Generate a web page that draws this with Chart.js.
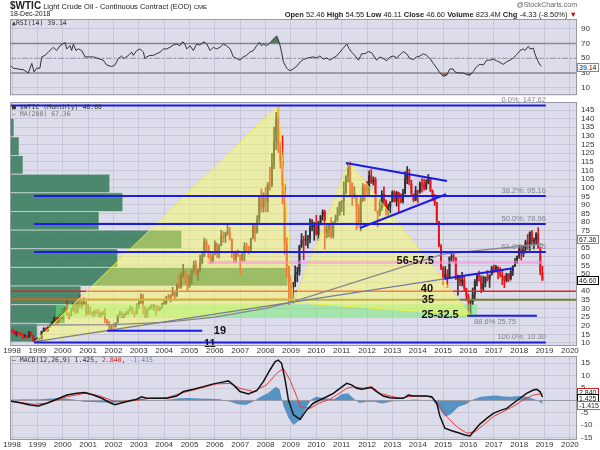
<!DOCTYPE html>
<html>
<head>
<meta charset="utf-8">
<title>$WTIC Light Crude Oil - Monthly</title>
<script src="https://cdn.jsdelivr.net/npm/chart.js@4.4.1/dist/chart.umd.min.js"></script>
<style>
  html, body { margin: 0; padding: 0; background: #fff; }
  body { position: relative; width: 600px; height: 450px; overflow: hidden; font-family: "Liberation Sans", Arial, sans-serif; color: #222; }
  canvas { position: absolute; left: 0; }
  .txt { position: absolute; white-space: nowrap; z-index: 5; }
  .mono { font-family: "DejaVu Sans Mono", monospace; font-size: 6.5px; color: #333; }
  .box { position: absolute; left: 577px; font-size: 7px; line-height: 7px; padding: 0 1px; background: #fff; border: 1px solid #888; z-index: 6; white-space: nowrap; }
</style>
</head>
<body>
<div class="txt" style="left:10px;top:0px;font-size:7.5px"><b style="font-size:10px">$WTIC</b> Light Crude Oil - Continuous Contract (EOD) <span style="font-size:6px">CME</span></div>
<div class="txt" style="right:23px;top:1px;font-size:7px;color:#666">@StockCharts.com</div>
<div class="txt" style="left:10px;top:10px;font-size:7px">18-Dec-2018</div>
<div class="txt" style="right:23px;top:10px;font-size:7.5px"><b>Open</b> 52.46 <b>High</b> 54.55 <b>Low</b> 46.11 <b>Close</b> 46.60 <b>Volume</b> 823.4M <b>Chg</b> -4.33 (-8.50%) <span style="color:#d00">&#9660;</span></div>

<div class="txt mono" style="left:12px;top:19px">&#9650;RSI(14) 39.14</div>
<div class="txt mono" style="left:12px;top:103px">&#9632; $WTIC (Monthly) 46.60</div>
<div class="txt mono" style="left:12px;top:110px;color:#777">&#8212; MA(200) 67.36</div>
<div class="txt mono" style="left:12px;top:356px">&#8212; MACD(12,26,9) 1.425, <span style="color:#e02020">2.840</span>, <span style="color:#4a8cc0">-1.415</span></div>

<div class="box" style="top:63px">39.14</div>
<div class="box" style="top:235px">67.36</div>
<div class="box" style="top:276px;border-color:#000">46.60</div>
<div class="box" style="top:388px;border-color:#e02020">2.840</div>
<div class="box" style="top:394px;border-color:#000">1.425</div>
<div class="box" style="top:401px;border-color:#4a8cc0">-1.415</div>

<canvas id="rsi" width="600" height="104" style="top:0px"></canvas>
<canvas id="main" width="600" height="266" style="top:90px"></canvas>
<canvas id="macd" width="600" height="104" style="top:346px"></canvas>

<script>
// axes
const xMin = 1997.92, xMax = 2020.28;
const yearTicks = [1998, 1999, 2000, 2001, 2002, 2003, 2004, 2005, 2006, 2007, 2008, 2009, 2010, 2011, 2012, 2013, 2014, 2015, 2016, 2017, 2018, 2019, 2020];
const priceTicks = [10, 15, 20, 25, 30, 35, 40, 45, 50, 55, 60, 65, 70, 75, 80, 85, 90, 95, 100, 105, 110, 115, 120, 125, 130, 135, 140, 145];
const rsiTicks = [10, 30, 50, 70, 90];
const macdTicks = [-15, -10, -5, 0, 5, 10, 15];

// monthly candles, Jan 1998 .. Dec 2018
const open = [
  17.64,17.21,15.44,15.61,15.39,15.20,14.18,14.21,13.39,16.14,14.42,11.22,
  12.05,12.75,12.27,16.76,18.66,16.84,19.29,20.53,22.11,24.51,21.75,24.59,
  25.60,27.64,30.43,26.90,25.74,29.01,32.50,27.43,33.12,30.84,32.70,33.82,
  26.80,28.66,27.39,26.29,28.46,28.37,26.25,26.35,27.20,23.43,21.18,19.44,
  19.84,19.48,21.74,26.31,27.29,25.31,26.86,27.02,28.98,30.45,27.22,26.89,
  31.20,33.51,36.60,31.04,25.80,29.56,30.19,30.54,31.57,29.20,29.11,30.41,
  32.52,33.05,36.16,35.76,37.38,39.88,37.05,43.80,42.12,49.64,51.76,49.13,
  43.45,48.20,51.75,55.40,49.72,51.97,56.50,60.57,68.94,66.24,59.76,57.32,
  61.04,67.92,61.41,66.63,71.88,71.29,73.93,74.40,70.26,62.91,58.73,63.13,
  61.05,58.14,61.79,65.87,65.71,64.01,70.68,78.21,74.04,81.66,94.53,88.71,
  95.98,91.75,101.84,101.58,113.46,127.35,140.00,124.08,115.46,100.64,67.81,54.43,
  44.60,41.68,44.76,49.66,51.12,66.31,69.89,69.45,69.96,70.61,77.00,77.28,
  79.36,72.89,79.66,83.76,86.15,73.97,75.63,78.95,71.92,79.97,81.43,84.11,
  91.38,92.19,96.97,106.72,113.93,102.70,95.42,95.70,88.81,79.20,93.19,100.36,
  98.83,98.48,107.07,103.02,104.87,86.53,84.96,88.06,96.47,92.19,86.24,88.91,
  91.82,97.49,92.05,97.23,93.46,91.97,96.56,105.03,107.65,102.33,96.38,92.72,
  98.42,97.49,102.59,101.58,99.74,102.71,105.37,98.17,95.96,91.16,80.54,66.15,
  53.27,48.24,49.76,47.60,59.63,60.30,59.47,47.12,49.20,45.09,46.59,41.65,
  37.04,33.62,33.75,38.34,45.92,49.10,48.33,41.60,44.70,48.24,46.86,49.44,
  53.72,52.81,54.01,50.60,49.33,48.32,46.04,50.17,47.23,51.67,54.38,57.40,
  60.42,64.73,61.64,64.94,68.57,67.04,74.15,68.76,69.80,73.25,65.31,50.93
];
const high = [
  17.82,17.25,16.70,16.30,15.90,15.30,14.90,14.30,16.70,16.40,14.80,12.60,
  13.10,13.00,16.90,18.90,18.90,19.40,20.90,22.40,25.10,24.70,26.30,27.00,
  30.00,31.20,34.10,27.50,30.30,33.20,32.60,33.80,37.80,34.20,36.20,34.00,
  32.20,30.90,28.00,29.00,29.40,29.20,27.90,28.40,29.90,23.70,22.60,20.70,
  21.20,21.90,26.40,28.40,28.20,27.10,28.20,29.20,31.40,30.70,28.40,32.70,
  34.10,38.50,38.20,31.20,30.10,31.40,32.30,32.40,31.70,31.70,31.00,33.20,
  35.20,37.00,38.20,38.00,42.30,40.10,44.30,49.40,50.50,55.67,52.00,49.60,
  49.30,52.40,57.60,57.70,52.60,60.95,62.30,70.85,70.00,66.80,62.40,61.90,
  69.20,68.00,67.00,75.35,74.50,74.20,78.40,77.00,70.40,63.00,63.40,64.00,
  61.10,62.20,68.10,67.90,66.00,70.70,78.77,78.30,83.90,94.70,99.29,97.00,
  100.09,103.05,111.80,119.93,135.09,143.67,147.27,126.50,130.00,102.00,71.00,54.60,
  49.00,45.10,54.66,53.90,66.64,73.38,71.98,75.00,72.40,82.00,81.48,80.00,
  83.95,80.50,83.85,87.15,87.00,79.40,79.40,82.70,80.20,84.10,88.63,91.88,
  92.58,103.41,106.95,113.93,114.83,102.70,100.62,95.80,90.50,94.65,102.44,101.77,
  103.74,109.77,110.55,106.25,106.00,86.60,92.94,98.29,100.42,92.96,90.51,91.94,
  98.24,98.24,97.80,97.40,96.50,99.00,109.32,112.24,110.74,104.23,96.40,100.75,
  98.50,103.38,105.22,104.99,104.50,107.68,105.60,98.72,95.96,91.55,80.54,66.99,
  54.24,54.24,52.48,59.90,62.58,61.80,59.47,49.35,49.20,50.92,48.53,41.85,
  38.39,34.69,41.90,46.78,50.21,51.67,49.00,48.75,48.34,51.93,49.60,54.51,
  55.24,54.94,54.33,53.76,52.00,48.99,50.43,50.22,52.86,54.90,59.05,60.51,
  66.66,66.66,66.55,69.56,72.90,74.46,75.27,70.74,74.00,76.90,65.50,54.55
];
const low = [
  16.10,15.05,13.90,14.80,14.60,12.60,13.20,12.80,13.20,13.90,10.90,10.35,
  11.30,11.50,12.30,16.60,16.40,16.80,19.00,20.20,21.90,21.00,21.60,24.50,
  24.00,27.40,25.80,24.00,25.50,28.40,26.80,27.40,30.40,30.10,32.00,25.90,
  26.50,26.60,25.60,25.40,26.90,25.20,25.00,26.30,21.80,20.50,17.50,17.80,
  17.90,19.10,21.70,25.40,24.70,24.70,25.80,26.50,28.60,26.90,25.10,26.80,
  30.00,33.00,26.90,24.80,25.00,29.00,29.80,28.90,26.00,28.40,28.70,30.10,
  32.20,32.40,35.00,33.70,37.20,35.10,37.00,41.60,41.80,48.20,45.00,40.25,
  42.10,44.20,50.80,49.30,46.20,51.20,55.80,59.90,62.40,59.00,56.00,56.70,
  61.00,59.60,59.30,66.30,68.40,68.20,72.50,69.50,59.50,56.50,57.00,60.00,
  49.90,57.20,57.70,62.50,61.50,63.50,70.30,69.00,73.50,78.70,86.00,85.90,
  86.11,86.00,98.65,100.40,111.00,122.00,120.40,111.30,90.50,61.30,48.00,32.40,
  33.55,33.20,42.60,45.60,49.30,65.30,58.32,66.60,65.05,68.00,75.00,69.50,
  72.43,69.50,78.40,81.20,64.24,71.00,71.40,70.76,70.76,79.20,80.60,84.00,
  86.20,84.10,96.50,103.40,94.63,89.61,94.00,75.71,77.11,74.95,91.90,92.52,
  95.44,95.96,102.40,101.50,86.51,77.28,83.60,86.80,89.20,84.05,84.05,85.10,
  91.78,91.66,89.30,85.61,91.16,91.07,96.38,102.22,101.53,96.06,91.77,92.42,
  91.24,96.69,97.37,98.51,98.88,102.18,97.72,92.50,89.61,79.78,65.69,52.44,
  43.58,47.06,42.03,47.59,57.15,56.70,46.68,37.75,43.21,43.02,39.93,34.53,
  26.19,26.05,32.24,35.24,43.03,45.83,39.19,39.99,42.52,45.94,42.20,49.30,
  50.71,51.22,47.09,48.18,43.76,42.05,45.40,45.58,46.46,49.10,54.20,56.09,
  59.06,58.07,59.95,62.19,64.22,63.59,67.03,64.43,67.15,64.87,49.41,46.11
];
const close = [
  17.21,15.44,15.61,15.39,15.20,14.18,14.21,13.39,16.14,14.42,11.22,12.05,
  12.75,12.27,16.76,18.66,16.84,19.29,20.53,22.11,24.51,21.75,24.59,25.60,
  27.64,30.43,26.90,25.74,29.01,32.50,27.43,33.12,30.84,32.70,33.82,26.80,
  28.66,27.39,26.29,28.46,28.37,26.25,26.35,27.20,23.43,21.18,19.44,19.84,
  19.48,21.74,26.31,27.29,25.31,26.86,27.02,28.98,30.45,27.22,26.89,31.20,
  33.51,36.60,31.04,25.80,29.56,30.19,30.54,31.57,29.20,29.11,30.41,32.52,
  33.05,36.16,35.76,37.38,39.88,37.05,43.80,42.12,49.64,51.76,49.13,43.45,
  48.20,51.75,55.40,49.72,51.97,56.50,60.57,68.94,66.24,59.76,57.32,61.04,
  67.92,61.41,66.63,71.88,71.29,73.93,74.40,70.26,62.91,58.73,63.13,61.05,
  58.14,61.79,65.87,65.71,64.01,70.68,78.21,74.04,81.66,94.53,88.71,95.98,
  91.75,101.84,101.58,113.46,127.35,140.00,124.08,115.46,100.64,67.81,54.43,44.60,
  41.68,44.76,49.66,51.12,66.31,69.89,69.45,69.96,70.61,77.00,77.28,79.36,
  72.89,79.66,83.76,86.15,73.97,75.63,78.95,71.92,79.97,81.43,84.11,91.38,
  92.19,96.97,106.72,113.93,102.70,95.42,95.70,88.81,79.20,93.19,100.36,98.83,
  98.48,107.07,103.02,104.87,86.53,84.96,88.06,96.47,92.19,86.24,88.91,91.82,
  97.49,92.05,97.23,93.46,91.97,96.56,105.03,107.65,102.33,96.38,92.72,98.42,
  97.49,102.59,101.58,99.74,102.71,105.37,98.17,95.96,91.16,80.54,66.15,53.27,
  48.24,49.76,47.60,59.63,60.30,59.47,47.12,49.20,45.09,46.59,41.65,37.04,
  33.62,33.75,38.34,45.92,49.10,48.33,41.60,44.70,48.24,46.86,49.44,53.72,
  52.81,54.01,50.60,49.33,48.32,46.04,50.17,47.23,51.67,54.38,57.40,60.42,
  64.73,61.64,64.94,68.57,67.04,74.15,68.76,69.80,73.25,65.31,50.93,46.60
];

// 200-month moving average
const maX = [1997.92, 2002.0, 2004.0, 2006.0, 2008.0, 2009.1, 2015.0, 2017.0, 2018.92];
const maY = [20.4, 20.6, 22.0, 25.0, 30.0, 34.0, 61.5, 64.5, 67.36];

// volume by price (share of plot width, %) between price edges
const volEdges = [10.6, 21.4, 32.2, 43.0, 53.8, 64.6, 75.4, 86.2, 97.0, 107.8, 118.6, 129.4, 140.2];
const volShare = [4.8, 9.7, 12.5, 49.0, 19.0, 30.3, 15.7, 19.9, 17.6, 2.3, 1.6, 0.7];

// fibonacci retracement 10.30 -> 147.62
const fibNames = ['0.0%', '38.2%', '50.0%', '61.8%', '100.0%'];
const fibLevels = [147.62, 95.16, 78.96, 62.76, 10.30];
const fibStart = [1997.92, 1998.87, 1998.87, 1998.87, 1998.87];
const fibEnd = 2019.05;
const fib886 = 25.75;

// drawn trendlines / zones
const trendX = [1998.85, 2015.05], trendY = [10.6, 47.2];
const trendBlueX = [2015.05, 2017.75], trendBlueY = [47.2, 53.3];
const triTopX = [2011.17, 2015.15], triTopY = [114.3, 103.9];
const triLowX = [2011.72, 2015.12], triLowY = [76.6, 96.2];
const low19X = [2001.75, 2005.5], low19Y = [17.1, 17.1];
const fib886X = [2015.95, 2018.7];
const tri1X = [1998.87, 2008.5, 2009.1, 1998.87], tri1Y = [10.4, 147.6, 33.5, 10.4];
const tri2X = [2009.1, 2011.3, 2016.1, 2009.1], tri2Y = [33.5, 114.8, 26.1, 33.5];
const greenZoneX = [1999.73, 2016.34], greenZoneY = [25, 32.5];
const pinkZoneX = [2005.7, 2018.95], pinkZoneY = [55.8, 57.6];
const redLine = 40, olive35 = 35;

const notes = [
  { text: '40', x: 2014.36, y: 41.4 },
  { text: '35', x: 2014.4, y: 35.0 },
  { text: '56-57.5', x: 2013.9, y: 57.6 },
  { text: '25-32.5', x: 2014.88, y: 26.4 },
  { text: '19', x: 2006.2, y: 17.0 },
  { text: '11', x: 2005.8, y: 9.5 }
];

// RSI(14)
const rsiX = [1997.92,1998.05,1998.45,1998.64,1998.78,1998.87,1998.97,1999.10,1999.17,1999.30,1999.43,1999.63,1999.76,1999.89,
  2000.09,2000.16,2000.29,2000.35,2000.42,2000.52,2000.62,2000.75,2000.88,2001.01,2001.21,2001.40,2001.60,2001.73,2001.93,
  2002.06,2002.19,2002.32,2002.42,2002.59,2002.72,2002.78,2002.92,2003.05,2003.18,2003.24,2003.31,2003.44,2003.57,2003.70,
  2003.84,2003.97,2004.10,2004.23,2004.36,2004.49,2004.62,2004.73,2004.82,2004.89,2005.02,2005.15,2005.28,2005.41,2005.57,
  2005.68,2005.81,2005.94,2006.07,2006.20,2006.33,2006.46,2006.60,2006.73,2006.86,2006.99,2007.12,2007.25,2007.38,2007.52,
  2007.65,2007.75,2007.84,2007.91,2008.04,2008.17,2008.30,2008.44,2008.54,2008.63,2008.70,2008.83,2008.96,2009.09,2009.22,
  2009.36,2009.49,2009.68,2009.88,2010.01,2010.14,2010.28,2010.41,2010.54,2010.67,2010.80,2010.93,2011.06,2011.20,2011.30,
  2011.39,2011.52,2011.66,2011.79,2011.92,2012.05,2012.18,2012.27,2012.38,2012.51,2012.64,2012.77,2012.91,2013.04,2013.17,
  2013.30,2013.43,2013.56,2013.69,2013.83,2013.96,2014.09,2014.22,2014.35,2014.48,2014.61,2014.75,2014.88,2015.01,2015.14,
  2015.27,2015.40,2015.47,2015.60,2015.80,2015.93,2016.06,2016.19,2016.32,2016.45,2016.59,2016.72,2016.85,2016.98,2017.11,
  2017.24,2017.37,2017.51,2017.64,2017.77,2017.90,2018.03,2018.16,2018.23,2018.36,2018.43,2018.56,2018.62,2018.72,2018.82,2018.88];
const rsiY = [40.9,36.6,34.4,30.1,43.1,31.4,36.6,36.6,51.8,53.9,58.3,64.8,60.4,66.9,
  71.3,62.6,66.9,60.4,69.2,60.4,62.6,60.4,51.8,51.8,51.8,49.6,47.4,40.9,38.8,
  40.9,49.6,53.0,49.6,53.9,58.3,53.9,60.4,62.6,58.3,49.6,51.8,53.9,53.9,56.0,
  58.3,62.6,62.6,64.8,67.8,69.2,66.9,72.2,69.2,62.6,66.9,60.4,69.2,67.8,72.2,
  69.2,60.4,64.8,62.6,64.8,69.2,66.9,62.6,51.8,49.6,47.4,51.8,53.9,58.3,60.4,
  66.9,71.3,66.9,69.2,66.9,70.4,75.7,80.0,71.3,58.3,45.3,36.6,33.1,35.7,38.8,
  45.0,48.3,50.5,51.8,50.5,53.0,48.7,50.5,47.4,50.5,53.0,58.3,63.5,69.2,62.6,
  58.3,53.9,47.4,56.1,56.1,59.1,57.4,53.0,47.4,51.8,49.6,46.6,51.8,53.0,50.5,
  54.8,59.1,56.1,49.6,48.3,51.8,53.0,56.1,53.9,49.6,43.1,36.6,30.1,25.7,27.0,
  35.7,35.3,31.4,30.1,30.1,27.9,27.0,32.2,38.8,41.8,40.9,47.4,47.4,48.7,46.6,
  44.4,41.8,45.3,47.4,50.5,54.8,60.4,62.6,60.4,66.1,62.6,63.5,56.1,47.4,40.9,39.14];
const rsiLevels = [70, 50, 30];

// MACD(12,26,9)
const macdX = [1997.92,1998.31,1998.71,1999.04,1999.37,1999.76,2000.16,2000.55,2000.88,2001.21,2001.54,2001.86,2002.06,2002.26,
  2002.65,2002.92,2003.11,2003.31,2003.70,2004.10,2004.49,2004.76,2005.15,2005.55,2005.94,2006.20,2006.53,2006.73,2006.99,
  2007.32,2007.65,2007.91,2008.17,2008.37,2008.50,2008.63,2008.77,2008.90,2009.10,2009.36,2009.62,2009.88,2010.14,2010.41,
  2010.67,2010.93,2011.20,2011.39,2011.59,2011.79,2011.99,2012.18,2012.38,2012.64,2012.91,2013.17,2013.43,2013.63,2013.83,
  2014.09,2014.35,2014.55,2014.75,2014.88,2015.07,2015.34,2015.60,2015.86,2016.06,2016.19,2016.45,2016.72,2016.98,2017.24,
  2017.51,2017.77,2018.03,2018.29,2018.56,2018.69,2018.82,2018.92];
const macdY = [-0.2,-0.9,-1.8,-2.2,-1.1,0.5,2.2,2.9,3.2,2.2,0.9,-0.9,-1.7,-1.1,
  -0.1,0.5,1.5,0.9,0.9,0.9,1.8,3.6,4.5,5.6,6.7,7.2,7.9,6.3,3.6,
  2.6,4.0,7.6,12.3,15.6,16.3,15.0,8.3,0.2,-5.8,-7.6,-3.8,-1.1,0.2,1.5,
  2.9,4.9,6.9,6.3,4.9,4.5,4.9,5.2,3.6,1.8,1.1,0.9,0.9,2.2,1.8,
  1.8,1.8,1.5,-1.1,-6.5,-11.2,-12.2,-13.0,-13.9,-14.3,-12.6,-9.5,-7.2,-5.2,-4.1,
  -3.2,-1.1,0.9,2.9,4.2,4.5,3.6,1.425];
const signalX = [1997.92,1998.84,1999.37,2000.16,2000.88,2001.47,2002.06,2002.78,2003.44,2004.10,2004.76,2005.41,2006.07,2006.60,
  2006.99,2007.52,2008.04,2008.44,2008.70,2008.96,2009.23,2009.36,2009.75,2010.14,2010.54,2010.80,2011.20,2011.46,2011.85,
  2012.18,2012.51,2012.91,2013.30,2013.83,2014.35,2014.61,2014.88,2015.14,2015.53,2015.93,2016.26,2016.59,2016.98,2017.37,
  2017.77,2018.16,2018.56,2018.92];
const signalY = [-0.2,-1.5,-1.1,1.5,2.9,1.8,-0.5,-0.1,0.9,1.1,3.2,4.9,6.7,6.9,
  4.9,3.6,6.3,11.0,13.0,8.3,1.5,-2.5,-3.2,-0.9,0.5,2.2,4.9,5.6,4.9,
  5.6,2.9,1.8,0.9,1.8,1.8,0.9,-2.4,-6.5,-10.5,-13.2,-12.6,-9.9,-6.5,-4.5,
  -2.4,0.2,2.2,2.84];
const histX = [1997.92,1998.5,1999.0,1999.5,2000.0,2000.5,2000.8,2001.2,2001.6,2002.0,2002.3,2002.6,2003.0,2003.4,2003.8,
  2004.2,2004.6,2005.0,2005.4,2005.8,2006.2,2006.6,2006.9,2007.2,2007.5,2007.8,2008.1,2008.4,2008.55,2008.7,2008.9,2009.1,
  2009.35,2009.6,2009.8,2010.0,2010.4,2010.7,2011.0,2011.25,2011.5,2011.7,2012.0,2012.3,2012.6,2013.0,2013.5,2013.8,
  2014.2,2014.6,2014.8,2015.0,2015.1,2015.3,2015.6,2015.9,2016.2,2016.5,2016.8,2017.1,2017.4,2017.7,2018.0,2018.3,
  2018.6,2018.8,2018.92];
const histY = [0.3,0.5,0.4,0.8,0.9,0.3,-0.5,-0.6,-0.8,-0.9,-0.2,0.2,0.5,0.2,0.1,
  0.4,0.9,1.0,0.8,0.7,0.5,-0.5,-1.5,-1.8,-0.5,1.5,3.0,5.5,4.5,-2.0,-7.0,-9.9,
  -7.9,-3.0,0.5,1.5,0.8,0.5,2.5,2.9,0.5,-1.0,-0.5,-0.5,-1.2,-0.3,-0.2,0.4,
  0.2,0.0,-2.5,-5.5,-6.5,-5.5,-2.5,-1.5,0.5,1.5,1.8,2.0,1.6,1.5,1.8,1.5,
  0.5,-0.5,-1.415];

// ---------- helpers ----------
Chart.defaults.font.family = '"Liberation Sans", Arial, sans-serif';
const gridColor = '#c6c6d6';
const panelBg = '#dcdcea';

function pts(xs, ys) { return xs.map((x, i) => ({ x, y: ys[i] })); }

function seg(xs, ys, color, width, order, dash) {
  return { type: 'line', data: pts(xs, ys), borderColor: color, borderWidth: width, borderDash: dash || [],
    pointRadius: 0, fill: false, tension: 0, order };
}

function poly(xs, ys, fillColor, lineColor, order, axis) {
  return { type: 'line', xAxisID: axis || 'x', data: pts(xs, ys), fill: 'shape', backgroundColor: fillColor,
    borderColor: lineColor || 'rgba(0,0,0,0)', borderWidth: lineColor ? 1 : 0, pointRadius: 0, tension: 0, order };
}

function rect(xr, yr, fillColor, order, axis, lineColor) {
  return poly([xr[0], xr[1], xr[1], xr[0]], [yr[0], yr[0], yr[1], yr[1]], fillColor, lineColor, order, axis);
}

function xAxis(labels) {
  return {
    type: 'linear', min: xMin, max: xMax, offset: false,
    afterBuildTicks: s => { s.ticks = yearTicks.map(v => ({ value: v })); },
    grid: { color: gridColor, drawTicks: false, offset: false },
    border: { display: false },
    ticks: { display: labels, color: '#333', font: { size: 8 }, padding: 0, maxRotation: 0, autoSkip: false, callback: v => String(v) },
    afterFit: s => { s.height = labels ? 10 : 0; }
  };
}

function yAxis(min, max, ticks) {
  return {
    type: 'linear', position: 'right', min, max, beginAtZero: false,
    afterBuildTicks: s => { s.ticks = ticks.map(v => ({ value: v })); },
    grid: { color: gridColor, drawTicks: false },
    border: { display: false },
    ticks: { color: '#333', font: { size: 8 }, padding: 4, autoSkip: false, callback: v => String(v) },
    afterFit: s => { s.width = 23; }
  };
}

const panel = {
  id: 'panel',
  beforeDraw(c) {
    const a = c.chartArea, ctx = c.ctx;
    ctx.save();
    ctx.fillStyle = panelBg;
    ctx.fillRect(a.left, a.top, a.width, a.height);
    ctx.restore();
  },
  afterDraw(c) {
    const a = c.chartArea, ctx = c.ctx;
    ctx.save();
    ctx.strokeStyle = '#9a9aa6';
    ctx.lineWidth = 1;
    ctx.strokeRect(a.left + 0.5, a.top + 0.5, a.width - 1, a.height - 1);
    ctx.restore();
  }
};

function baseOptions(padTop, padBottom, scales) {
  return {
    responsive: false, animation: false, events: [],
    layout: { padding: { left: 10, right: 0, top: padTop, bottom: padBottom } },
    plugins: { legend: { display: false }, tooltip: { enabled: false } },
    scales
  };
}

// ---------- RSI ----------
new Chart(document.getElementById('rsi'), {
  type: 'line',
  data: {
    datasets: [
      seg(rsiX, rsiY, '#333', 1, 1),
      { type: 'line', data: pts(rsiX, rsiY), borderWidth: 0, pointRadius: 0, tension: 0, order: 2,
        fill: { target: { value: 70 }, above: '#557a5c', below: 'rgba(0,0,0,0)' } },
      { type: 'line', data: pts(rsiX, rsiY), borderWidth: 0, pointRadius: 0, tension: 0, order: 2,
        fill: { target: { value: 30 }, above: 'rgba(0,0,0,0)', below: '#a8694a' } },
      seg([xMin, xMax], [rsiLevels[0], rsiLevels[0]], '#8a8a92', 1.5, 3),
      seg([xMin, xMax], [rsiLevels[1], rsiLevels[1]], '#9a9aa4', 1, 3, [6, 2, 2, 2]),
      seg([xMin, xMax], [rsiLevels[2], rsiLevels[2]], '#8a8a92', 1.5, 3)
    ]
  },
  options: baseOptions(19, 6, { x: xAxis(false), y: yAxis(0.1, 103, rsiTicks) }),
  plugins: [panel]
});

// ---------- price ----------
const monthX = close.map((_, i) => 1998 + i / 12);
const candleColor = close.map((c, i) => c >= open[i] ? '#2e2e2e' : '#e3141c');

const mainNotes = {
  id: 'mainNotes',
  afterDatasetsDraw(chart) {
    const { ctx, scales: { x, y } } = chart;
    ctx.save();
    ctx.font = '7.5px "Liberation Sans"';
    ctx.fillStyle = '#80808e';
    ctx.textAlign = 'right';
    ctx.textBaseline = 'bottom';
    fibLevels.forEach((lv, i) => {
      ctx.fillText(fibNames[i] + ': ' + lv.toFixed(2), x.getPixelForValue(fibEnd), y.getPixelForValue(lv) - 1.5);
    });
    ctx.textAlign = 'center';
    ctx.textBaseline = 'top';
    ctx.fillText('88.6% ' + fib886.toFixed(2), x.getPixelForValue(2017.05), y.getPixelForValue(fib886) + 2);
    ctx.font = 'bold 11px "Liberation Sans"';
    ctx.fillStyle = '#111';
    ctx.textBaseline = 'middle';
    notes.forEach(n => ctx.fillText(n.text, x.getPixelForValue(n.x), y.getPixelForValue(n.y)));
    ctx.restore();
  }
};

const blue = '#1c1ce6';
const mainSets = [];
fibLevels.forEach((lv, i) => mainSets.push(seg([fibStart[i], fibEnd], [lv, lv], blue, 2, 1)));
mainSets.push(seg(fib886X, [fib886, fib886], blue, 2, 1));
mainSets.push(seg(low19X, low19Y, blue, 2, 1));
mainSets.push(seg(triTopX, triTopY, blue, 2, 1));
mainSets.push(seg(triLowX, triLowY, blue, 2, 1));
mainSets.push(seg(trendBlueX, trendBlueY, blue, 2, 1));
mainSets.push(seg(trendX, trendY, '#767c9c', 1.3, 2));
mainSets.push(seg(maX, maY, '#86868f', 1.3, 2));
mainSets.push(rect(pinkZoneX, pinkZoneY, 'rgba(255,140,230,0.55)', 3));
mainSets.push(poly(tri1X, tri1Y, 'rgba(255,255,90,0.45)', 'rgba(240,240,60,0.9)', 4));
mainSets.push(poly(tri2X, tri2Y, 'rgba(255,255,90,0.45)', 'rgba(240,240,60,0.9)', 4));
mainSets.push(rect(greenZoneX, greenZoneY, 'rgba(110,238,110,0.5)', 5));
mainSets.push(seg([xMin, xMax], [redLine, redLine], '#e52222', 1.5, 6));
mainSets.push(seg([xMin, 2009.1], [olive35 + 0.3, olive35 + 0.3], '#e8601e', 1.5, 6));
mainSets.push(seg([xMin, xMax], [olive35, olive35], '#7a7a32', 2, 6));
mainSets.push({ type: 'bar', data: monthX.map((x, i) => ({ x, y: [open[i], close[i]] })), backgroundColor: candleColor,
  grouped: false, barPercentage: 0.92, categoryPercentage: 1, minBarLength: 1, order: 7 });
mainSets.push({ type: 'bar', data: monthX.map((x, i) => ({ x, y: [low[i], high[i]] })), backgroundColor: candleColor,
  grouped: false, barThickness: 1, order: 8 });
volShare.forEach((w, i) => mainSets.push(rect([0, w], [volEdges[i], volEdges[i + 1]], 'rgba(62,128,98,0.92)', 9, 'xv', 'rgba(236,236,246,0.55)')));

new Chart(document.getElementById('main'), {
  type: 'line',
  data: { datasets: mainSets },
  options: baseOptions(12, 0, {
    x: xAxis(true),
    xv: { type: 'linear', display: false, min: 0, max: 100, offset: false },
    y: yAxis(8.26, 149.64, priceTicks)
  }),
  plugins: [panel, mainNotes]
});

// ---------- MACD ----------
new Chart(document.getElementById('macd'), {
  type: 'line',
  data: {
    datasets: [
      seg(macdX, macdY, '#111', 1.5, 1),
      seg(signalX, signalY, '#ee3a3a', 1, 2),
      seg([xMin, xMax], [0, 0], '#9a9aa6', 1, 3),
      { type: 'line', data: pts(histX, histY), borderWidth: 0, pointRadius: 0, tension: 0, order: 4,
        fill: 'origin', backgroundColor: 'rgba(62,134,190,0.85)' }
    ]
  },
  options: baseOptions(10, 0, { x: xAxis(true), y: yAxis(-15.93, 17.94, macdTicks) }),
  plugins: [panel]
});
</script>
</body>
</html>
